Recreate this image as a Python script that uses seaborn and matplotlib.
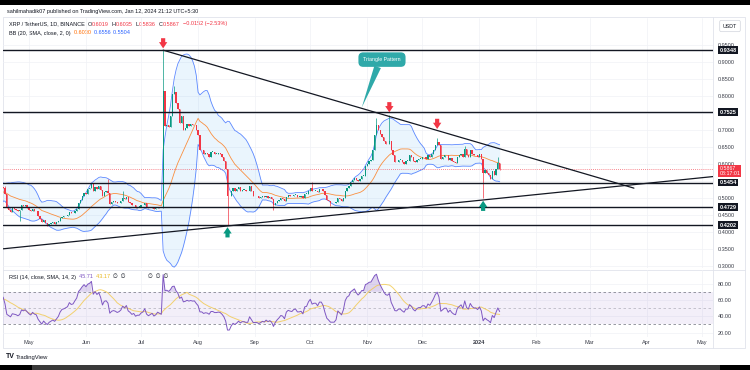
import numpy as np
import pandas as pd
import matplotlib
matplotlib.use("Agg")
import matplotlib.pyplot as plt
import matplotlib.dates as mdates
import matplotlib.transforms as mtransforms
from matplotlib.patches import Rectangle
from matplotlib.ticker import FormatStrFormatter, FuncFormatter
import seaborn as sns

# XRP/USDT daily closes (March/early April only feed the indicators)
closes_mar = [0.368, 0.362, 0.372, 0.372, 0.380, 0.362, 0.368, 0.378, 0.372, 0.382, 0.372,
              0.450, 0.430, 0.458, 0.432, 0.440, 0.452, 0.438, 0.470, 0.530, 0.540, 0.538]
closes_apr = [0.538, 0.508, 0.510, 0.508, 0.505, 0.504, 0.504, 0.500, 0.508, 0.510,
              0.518, 0.500, 0.518, 0.525, 0.528, 0.532, 0.530, 0.512, 0.472, 0.466,
              0.460, 0.470, 0.468, 0.466, 0.462, 0.465, 0.478, 0.475, 0.478, 0.472]
closes_may = [0.466, 0.462, 0.468, 0.463, 0.461, 0.447, 0.438, 0.428, 0.434, 0.426,
              0.420, 0.424, 0.426, 0.428, 0.424, 0.428, 0.432, 0.440, 0.445, 0.446,
              0.448, 0.450, 0.458, 0.455, 0.456, 0.462, 0.468, 0.486, 0.494, 0.505, 0.515]
closes_jun = [0.512, 0.525, 0.530, 0.542, 0.520, 0.532, 0.526, 0.534, 0.524, 0.505,
              0.518, 0.520, 0.514, 0.482, 0.488, 0.490, 0.488, 0.484, 0.486, 0.490,
              0.500, 0.496, 0.502, 0.488, 0.484, 0.478, 0.480, 0.472, 0.474, 0.474]
closes_jul = [0.478, 0.480, 0.486, 0.474, 0.470, 0.472, 0.474, 0.468, 0.470, 0.474,
              0.472, 0.470, 0.815, 0.712, 0.716, 0.708, 0.742, 0.805, 0.812, 0.780,
              0.762, 0.722, 0.740, 0.700, 0.706, 0.718, 0.712, 0.718, 0.714, 0.716, 0.700]
closes_aug = [0.686, 0.640, 0.640, 0.628, 0.632, 0.630, 0.622, 0.636, 0.636, 0.630,
              0.630, 0.632, 0.630, 0.622, 0.610, 0.585, 0.505, 0.505, 0.520, 0.530,
              0.520, 0.525, 0.532, 0.520, 0.524, 0.524, 0.520, 0.520, 0.536, 0.522, 0.505]
closes_sep = [0.505, 0.505, 0.500, 0.502, 0.505, 0.502, 0.506, 0.500, 0.502, 0.496,
              0.478, 0.486, 0.491, 0.495, 0.500, 0.498, 0.490, 0.504, 0.508, 0.506,
              0.505, 0.509, 0.510, 0.504, 0.504, 0.505, 0.500, 0.512, 0.513, 0.522]
closes_oct = [0.528, 0.520, 0.522, 0.522, 0.518, 0.525, 0.525, 0.520, 0.508, 0.495,
              0.490, 0.484, 0.484, 0.484, 0.487, 0.500, 0.496, 0.492, 0.500, 0.520,
              0.530, 0.534, 0.548, 0.554, 0.560, 0.554, 0.550, 0.556, 0.566, 0.566, 0.595]
closes_nov = [0.600, 0.610, 0.612, 0.640, 0.685, 0.715, 0.700, 0.688, 0.678, 0.668,
              0.660, 0.658, 0.668, 0.640, 0.625, 0.606, 0.605, 0.612, 0.612, 0.605,
              0.600, 0.610, 0.610, 0.625, 0.620, 0.610, 0.605, 0.612, 0.615, 0.615]
closes_dec = [0.620, 0.620, 0.615, 0.625, 0.622, 0.630, 0.640, 0.655, 0.665, 0.655,
              0.615, 0.620, 0.625, 0.625, 0.612, 0.618, 0.610, 0.605, 0.603, 0.620,
              0.625, 0.630, 0.620, 0.645, 0.625, 0.620, 0.640, 0.630, 0.625, 0.625, 0.620]
closes_jan = [0.628, 0.616, 0.573, 0.581, 0.573, 0.567, 0.557, 0.578, 0.568, 0.585, 0.6019, 0.5867]

wick_highs = {"2023-04-18": 0.534, "2023-06-13": 0.557, "2023-06-21": 0.522,
              "2023-07-13": 0.9348, "2023-07-19": 0.828, "2023-10-02": 0.547,
              "2023-11-06": 0.735, "2023-11-13": 0.745, "2023-12-09": 0.675,
              "2023-12-24": 0.652, "2024-01-11": 0.620, "2024-01-12": 0.6035}
wick_lows = {"2023-04-26": 0.432, "2023-05-11": 0.417, "2023-08-17": 0.4202,
             "2023-09-11": 0.466, "2023-10-12": 0.476, "2024-01-03": 0.500,
             "2024-01-12": 0.5836}

levels = [0.9348, 0.7525, 0.5454, 0.4729, 0.4202]
last_price = 0.5867
tri_upper = [("2023-07-13", 0.9348), ("2024-03-25", 0.529)]
tri_lower = [("2023-04-16", 0.350), ("2024-05-07", 0.563)]
arrows_down = [("2023-07-13", 0.940), ("2023-11-13", 0.752), ("2023-12-09", 0.703)]
arrows_up = [("2023-08-17", 0.414), ("2024-01-03", 0.492)]
month_labels = ["May", "Jun", "Jul", "Aug", "Sep", "Oct", "Nov", "Dec", "2024", "Feb", "Mar", "Apr", "May"]
price_ticks = np.arange(0.30, 0.951, 0.05)
rsi_ticks = [20, 40, 60, 80]

UP, DN = "#089981", "#F23645"
INK = "#131722"
BB_BLUE, BB_ORANGE = "#2962FF", "#FF6D00"
RSI_PURPLE, RSI_YELLOW = "#7E57C2", "#F2C94C"
TEAL = "#2FA9A9"

sns.set_theme(style="white")
plt.rcParams["font.family"] = ["Liberation Sans", "DejaVu Sans"]

closes = (closes_mar + closes_apr + closes_may + closes_jun + closes_jul + closes_aug +
          closes_sep + closes_oct + closes_nov + closes_dec + closes_jan)
df = pd.DataFrame({"date": pd.date_range("2023-03-10", periods=len(closes), freq="D"), "close": closes})
df["open"] = df["close"].shift(1).fillna(df["close"])
df["high"] = df[["open", "close"]].max(axis=1)
df["low"] = df[["open", "close"]].min(axis=1)
for d, v in wick_highs.items():
    df.loc[df["date"] == d, "high"] = v
for d, v in wick_lows.items():
    df.loc[df["date"] == d, "low"] = v
df["x"] = mdates.date2num(df["date"])

# Bollinger (20, 2) and RSI (14) with its 14 SMA
df["basis"] = df["close"].rolling(20).mean()
sd = df["close"].rolling(20).std(ddof=0)
df["upper"] = df["basis"] + 2 * sd
df["lower"] = df["basis"] - 2 * sd
delta = df["close"].diff()
avg_gain = delta.clip(lower=0).ewm(alpha=1 / 14, adjust=False).mean()
avg_loss = (-delta.clip(upper=0)).ewm(alpha=1 / 14, adjust=False).mean()
df["rsi"] = 100 - 100 / (1 + avg_gain / avg_loss)
df["rsi_ma"] = df["rsi"].rolling(14).mean()

def dnum(s):
    return mdates.date2num(pd.Timestamp(s))

x0, x1 = dnum("2023-04-16 22:00"), dnum("2024-05-07")
month_x = [dnum(d) for d in pd.date_range("2023-05-01", "2024-05-01", freq="MS")]

fig = plt.figure(figsize=(7.5, 3.7), dpi=100)
ov = fig.add_axes([0, 0, 1, 1], zorder=0)
ov.set_xlim(0, 750)
ov.set_ylim(370, 0)
ov.axis("off")

ax = fig.add_axes([3 / 750, 102 / 370, 710 / 750, 250 / 370], zorder=1)
axr = fig.add_axes([3 / 750, 33 / 370, 710 / 750, 67 / 370], zorder=1)
for a in (ax, axr):
    a.set_facecolor("none")
    for s in a.spines.values():
        s.set_visible(False)
    a.set_xlim(x0, x1)
    a.set_xticks(month_x)
    a.grid(True, color="#F0F2F6", lw=0.5)
    a.yaxis.tick_right()
    a.tick_params(axis="y", length=0, pad=3.6, labelsize=4, labelcolor="#3A3D48")

# ---- price pane ----
ax.set_ylim(0.2941, 1.0294)
ax.set_yticks(price_ticks)
# the 0.5500 label sits under the 0.5454 marker on the price scale, so it is left blank
ax.yaxis.set_major_formatter(FuncFormatter(lambda v, _: "" if abs(v - 0.55) < 1e-6 else f"{v:.4f}"))
ax.tick_params(axis="x", length=0, labelbottom=False)

ax.fill_between(df["x"], df["lower"], df["upper"], color="#2196F3", alpha=0.09, lw=0, zorder=1)
sns.lineplot(data=df, x="x", y="upper", ax=ax, color=BB_BLUE, lw=0.6, alpha=0.75, zorder=2)
sns.lineplot(data=df, x="x", y="lower", ax=ax, color=BB_BLUE, lw=0.6, alpha=0.75, zorder=2)
sns.lineplot(data=df, x="x", y="basis", ax=ax, color=BB_ORANGE, lw=0.6, alpha=0.75, zorder=2)

col = np.where(df["close"] >= df["open"], UP, DN)
ax.vlines(df["x"], df["low"], df["high"], colors=col, lw=0.5, zorder=3)
ax.bar(df["x"], (df["close"] - df["open"]).abs().clip(lower=0.0015),
       bottom=df[["open", "close"]].min(axis=1), width=0.7, color=col, lw=0, zorder=3)

ax.axhline(last_price, color=DN, lw=0.6, ls=(0, (1, 1.5)), alpha=0.8, zorder=2)
for lv in levels:
    ax.axhline(lv, color=INK, lw=1.0, zorder=4)
for line in (tri_upper, tri_lower):
    ax.plot([dnum(line[0][0]), dnum(line[1][0])], [line[0][1], line[1][1]], color=INK, lw=0.9, zorder=4)

arrow_style = "simple,head_length=0.45,head_width=0.6,tail_width=0.3"
for d, tip in arrows_down:
    ax.annotate("", xy=(dnum(d), tip), xytext=(dnum(d), tip + 0.03), annotation_clip=False,
                arrowprops=dict(arrowstyle=arrow_style, fc=DN, ec="none", shrinkA=0, shrinkB=0,
                                mutation_scale=10), zorder=7)
for d, tip in arrows_up:
    ax.annotate("", xy=(dnum(d), tip), xytext=(dnum(d), tip - 0.03), annotation_clip=False,
                arrowprops=dict(arrowstyle=arrow_style, fc=UP, ec="none", shrinkA=0, shrinkB=0,
                                mutation_scale=10), zorder=7)

ax.annotate("Triangle Pattern", xy=(dnum("2023-10-29"), 0.766), xytext=(dnum("2023-11-09"), 0.907),
            ha="center", va="center", fontsize=3.8, color="white", zorder=8,
            bbox=dict(boxstyle="round,pad=0.9,rounding_size=0.9", fc=TEAL, ec="none"),
            arrowprops=dict(arrowstyle="wedge,tail_width=0.5,shrink_factor=0.5", fc=TEAL, ec="none",
                            shrinkA=0, shrinkB=0, mutation_scale=10, relpos=(0.45, 0.3)))

trans = mtransforms.blended_transform_factory(ax.transAxes, ax.transData)
for lv in levels:
    ax.text(1.009, lv, f"{lv:.4f}", transform=trans, ha="left", va="center", color="white",
            fontsize=4, fontweight="bold", clip_on=False, zorder=9,
            bbox=dict(boxstyle="square,pad=0.25", fc=INK, ec="none"))
ax.annotate(f"{last_price:.4f}\n08:17:01", xy=(1.009, last_price), xycoords=trans,
            xytext=(0, -1.6), textcoords="offset points", ha="left", va="center", color="white",
            fontsize=3.8, linespacing=0.95, annotation_clip=False, zorder=9,
            bbox=dict(boxstyle="square,pad=0.2", fc=DN, ec="none"))
ax.set_xlabel("")
ax.set_ylabel("")

# ---- RSI pane ----
axr.set_ylim(14.6, 96.8)
axr.set_yticks(rsi_ticks)
axr.yaxis.set_major_formatter(FormatStrFormatter("%.2f"))
axr.axhspan(30, 70, color=RSI_PURPLE, alpha=0.09, lw=0, zorder=1)
for lv, al in ((70, 0.9), (50, 0.45), (30, 0.9)):
    axr.axhline(lv, color="#787B86", lw=0.6, ls=(0, (3, 3)), alpha=al, zorder=2)
axr.fill_between(df["x"], 70, df["rsi"], where=df["rsi"] > 70, color=RSI_PURPLE, alpha=0.25, lw=0, zorder=2)
sns.lineplot(data=df, x="x", y="rsi_ma", ax=axr, color=RSI_YELLOW, lw=0.7, alpha=0.8, zorder=3)
sns.lineplot(data=df, x="x", y="rsi", ax=axr, color=RSI_PURPLE, lw=0.7, zorder=4)
axr.set_xticklabels(month_labels)
axr.tick_params(axis="x", length=0, pad=2.2, labelsize=4, labelcolor="#3A3D48")
axr.set_xlabel("")
axr.set_ylabel("")
for lab in axr.get_xticklabels():
    if lab.get_text() == "2024":
        lab.set_fontweight("bold")

# ---- page furniture ----
ov.add_patch(Rectangle((0, 0), 750, 5, fc="black", ec="none", zorder=1))
ov.add_patch(Rectangle((0, 364.5), 750, 6, fc="#3A3A3A", ec="none"))
ov.add_patch(Rectangle((0, 364.5), 32, 6, fc="black", ec="none"))
ov.add_patch(Rectangle((720, 364.5), 30, 6, fc="black", ec="none"))

ov.add_patch(Rectangle((3, 17), 742, 331, fc="none", ec="#E0E3EB", lw=0.6))
ov.plot([713, 713], [17, 348], color="#E0E3EB", lw=0.6)
ov.plot([3, 745], [269.5, 269.5], color="#E0E3EB", lw=0.6)

ov.text(7, 11, "sahilmahadik07 published on TradingView.com, Jan 12, 2024 21:12 UTC+5:30",
        fontsize=4, color=INK, va="center", zorder=3)

def chain_text(x, y, pieces):
    t = ov.text(x, y, pieces[0][0], color=pieces[0][1], fontsize=4, va="center")
    for s, c in pieces[1:]:
        t = ov.annotate(s, xy=(1, 0), xycoords=t, va="bottom", color=c, fontsize=4)
    return t

chain_text(9, 24, [("XRP / TetherUS, 1D, BINANCE", INK), ("  O", INK), ("0.6019", DN),
                   ("  H", INK), ("0.6035", DN), ("  L", INK), ("0.5836", DN),
                   ("  C", INK), ("0.5867", DN), ("  −0.0152 (−2.53%)", DN)])
chain_text(9, 33, [("BB (20, SMA, close, 2, 0)", INK), ("  0.6030", BB_ORANGE),
                   ("  0.6556", BB_BLUE), ("  0.5504", BB_BLUE)])
chain_text(9, 277, [("RSI (14, close, SMA, 14, 2)", INK), ("  45.71", RSI_PURPLE),
                    ("  43.17", "#E8B923"), ("  ∅  ∅", INK)])
ov.text(148, 277, "∅  ∅  ∅", fontsize=4, color=INK, va="center")

ov.text(730, 26, "USDT", fontsize=3.8, color=INK, ha="center", va="center",
        bbox=dict(boxstyle="round,pad=0.6,rounding_size=0.3", fc="white", ec="#D1D4DC", lw=0.5))

ov.text(6, 357, "TV", fontsize=5, fontweight="bold", color=INK, va="center")
ov.text(16, 357, "TradingView", fontsize=4.2, color=INK, va="center")

fig.savefig("out.png", dpi=100)
